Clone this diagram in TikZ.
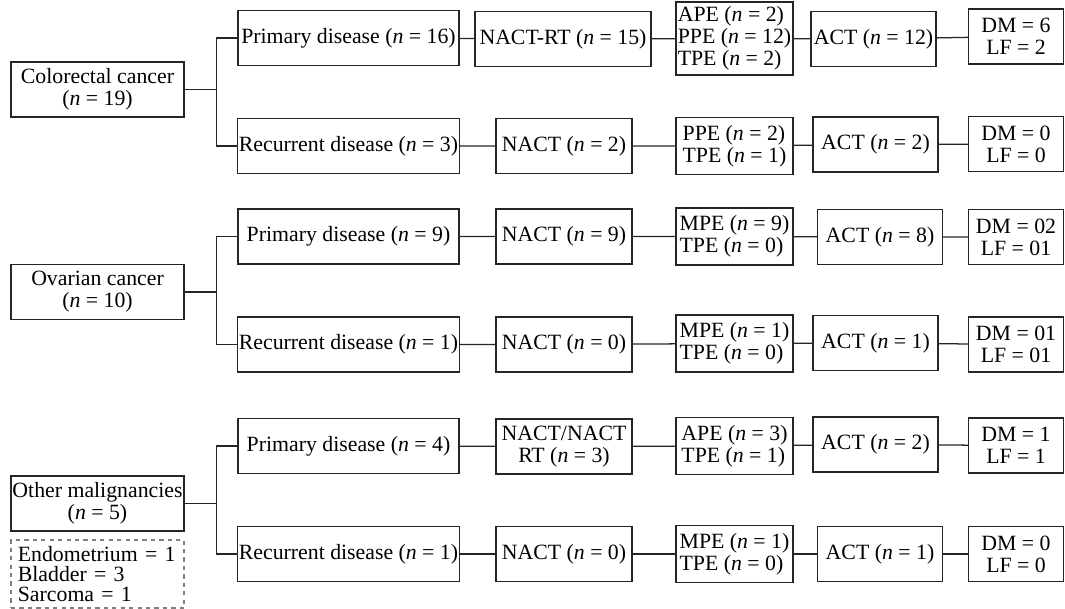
\documentclass[tikz,border=0pt]{standalone}
\usepackage{fontspec}
\setmainfont{Liberation Serif}
\usepackage{tikz}
\usetikzlibrary{positioning}
\tikzset{
  MyBox/.style={
    rectangle, draw=black!85, line width=0.9pt,
    inner xsep=1pt, inner ysep=2pt, align=center,
    minimum height=1.375cm,
    font=\fontsize{15.5}{15.6}\selectfont,
  },
  MyNote/.style={
    rectangle, draw=black!50, dashed, line width=0.8pt,
    inner xsep=0.17cm, inner ysep=2pt, text width=3.98cm, align=left,
    minimum height=1.7cm,
    font=\fontsize{15.5}{14.4}\selectfont,
  },
  MyLine/.style={line width=0.9pt, draw=black!85},
}
\newcommand{\nn}{\textit{n}}

\begin{document}
\begin{tikzpicture}[x=0.025cm,y=-0.025cm]
\useasboundingbox (0,0) rectangle (1065,609);
% colorectal cancer
\node[MyBox, minimum width=4.325cm] (CC) at (97.5,89.5) {Colorectal cancer\\(\nn{} = 19)};
\node[MyBox, minimum width=5.525cm] (CCP) at (348.5,38) {Primary disease (\nn{} = 16)};
\node[MyBox, minimum width=4.4cm] (CCPN) at (563,39) {NACT-RT (\nn{} = 15)};
\node[MyBox, minimum width=2.925cm, minimum height=1.825cm, align=left] (CCPS) at (734.5,38.5) {APE (\nn{} = 2)\\PPE (\nn{} = 12)\\TPE (\nn{} = 2)};
\node[MyBox, minimum width=3.125cm] (CCPA) at (873.5,39) {ACT (\nn{} = 12)};
\node[MyBox, minimum width=2.375cm] (CCPD) at (1016,36.5) {DM = 6\\LF = 2};
\node[MyBox, minimum width=5.525cm] (CCR) at (348.5,146) {Recurrent disease (\nn{} = 3)};
\node[MyBox, minimum width=3.4cm] (CCRN) at (564,146) {NACT (\nn{} = 2)};
\node[MyBox, minimum width=2.925cm, minimum height=1.425cm, align=left] (CCRS) at (734.5,146) {PPE (\nn{} = 2)\\TPE (\nn{} = 1)};
\node[MyBox, minimum width=3.125cm] (CCRA) at (875.5,144.5) {ACT (\nn{} = 2)};
\node[MyBox, minimum width=2.375cm] (CCRD) at (1016,144) {DM = 0\\LF = 0};
% ovarian cancer
\node[MyBox, minimum width=4.325cm] (OC) at (97.5,292) {Ovarian cancer\\(\nn{} = 10)};
\node[MyBox, minimum width=5.525cm] (OCP) at (348.5,236.5) {Primary disease (\nn{} = 9)};
\node[MyBox, minimum width=3.4cm] (OCPN) at (564,236.5) {NACT (\nn{} = 9)};
\node[MyBox, minimum width=2.925cm, minimum height=1.425cm, align=left] (OCPS) at (734.5,236.5) {MPE (\nn{} = 9)\\TPE (\nn{} = 0)};
\node[MyBox, minimum width=3.125cm] (OCPA) at (880,237) {ACT (\nn{} = 8)};
\node[MyBox, minimum width=2.375cm] (OCPD) at (1016,237) {DM = 02\\LF = 01};
\node[MyBox, minimum width=5.525cm] (OCR) at (348.5,344.5) {Recurrent disease (\nn{} = 1)};
\node[MyBox, minimum width=3.4cm] (OCRN) at (564,344.5) {NACT (\nn{} = 0)};
\node[MyBox, minimum width=2.925cm, minimum height=1.425cm, align=left] (OCRS) at (734.5,343.5) {MPE (\nn{} = 1)\\TPE (\nn{} = 0)};
\node[MyBox, minimum width=3.125cm] (OCRA) at (875.5,343) {ACT (\nn{} = 1)};
\node[MyBox, minimum width=2.375cm] (OCRD) at (1016,344.5) {DM = 01\\LF = 01};
% other malignancies
\node[MyBox, minimum width=4.325cm] (OM) at (97.5,503.5) {Other malignancies\\(\nn{} = 5)};
\node[MyNote, minimum width=4.325cm] (OMLIST) at (97.5,574) {Endometrium = 1\\Bladder = 3\\Sarcoma = 1};
\node[MyBox, minimum width=5.525cm] (OMP) at (348.5,446) {Primary disease (\nn{} = 4)};
\node[MyBox, minimum width=3.4cm] (OMPN) at (564,446.5) {NACT/NACT\\RT (\nn{} = 3)};
\node[MyBox, minimum width=2.925cm, minimum height=1.425cm, align=left] (OMPS) at (734.5,446) {APE (\nn{} = 3)\\TPE (\nn{} = 1)};
\node[MyBox, minimum width=3.125cm] (OMPA) at (875.5,444.5) {ACT (\nn{} = 2)};
\node[MyBox, minimum width=2.375cm] (OMPD) at (1016,445.5) {DM = 1\\LF = 1};
\node[MyBox, minimum width=5.525cm] (OMR) at (348.5,554) {Recurrent disease (\nn{} = 1)};
\node[MyBox, minimum width=3.4cm] (OMRN) at (564,554) {NACT (\nn{} = 0)};
\node[MyBox, minimum width=2.925cm, minimum height=1.425cm, align=left] (OMRS) at (734.5,554) {MPE (\nn{} = 1)\\TPE (\nn{} = 0)};
\node[MyBox, minimum width=3.125cm] (OMRA) at (880,554) {ACT (\nn{} = 1)};
\node[MyBox, minimum width=2.375cm] (OMRD) at (1016,554) {DM = 0\\LF = 0};
% branches
\draw[MyLine] (CC.east) -- +(32,0) |- (CCP.west);
\draw[MyLine] (CC.east) -- +(32,0) |- (CCR.west);
\draw[MyLine] (OC.east) -- +(32,0) |- (OCP.west);
\draw[MyLine] (OC.east) -- +(32,0) |- (OCR.west);
\draw[MyLine] (OM.east) -- +(32,0) |- (OMP.west);
\draw[MyLine] (OM.east) -- +(32,0) |- (OMR.west);
% chains
\draw[MyLine] (CCP) -- (CCPN) -- (CCPS) -- (CCPA) -- (CCPD);
\draw[MyLine] (CCR) -- (CCRN) -- (CCRS) -- (CCRA) -- (CCRD);
\draw[MyLine] (OCP) -- (OCPN) -- (OCPS) -- (OCPA) -- (OCPD);
\draw[MyLine] (OCR) -- (OCRN) -- (OCRS) -- (OCRA) -- (OCRD);
\draw[MyLine] (OMP) -- (OMPN) -- (OMPS) -- (OMPA) -- (OMPD);
\draw[MyLine] (OMR) -- (OMRN) -- (OMRS) -- (OMRA) -- (OMRD);
\end{tikzpicture}
\end{document}
